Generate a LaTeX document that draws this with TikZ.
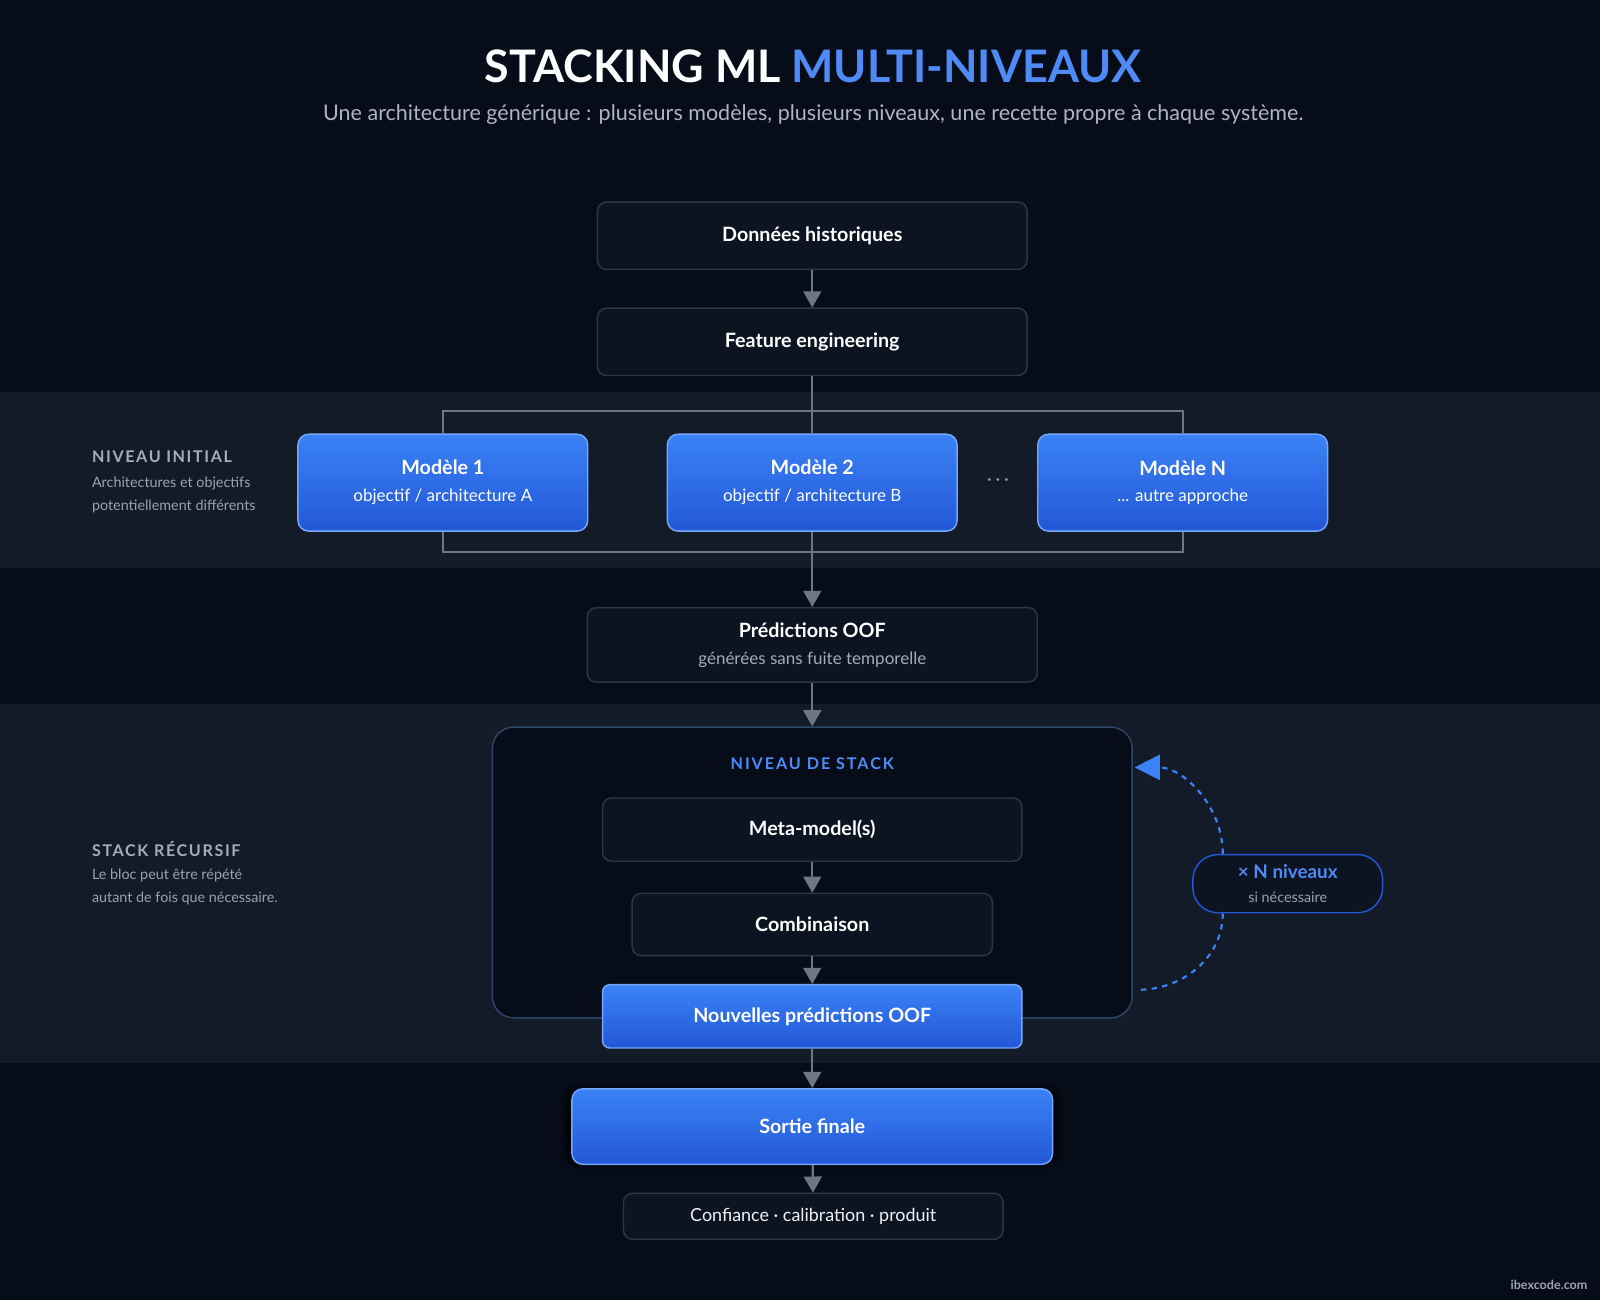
\documentclass[tikz,border=0pt]{standalone}
\usepackage{fontspec}
\setmainfont{Lato}
\usetikzlibrary{arrows.meta,positioning,calc,shadows.blur}
\definecolor{bgdark}{HTML}{060D19}
\definecolor{band}{HTML}{131B29}
\definecolor{boxfill}{HTML}{0C1421}
\definecolor{boxline}{HTML}{2C3646}
\definecolor{linegray}{HTML}{6B7686}
\definecolor{blueA}{HTML}{3B82F6}
\definecolor{blueB}{HTML}{2257D6}
\definecolor{blueT}{HTML}{4F8BF7}
\definecolor{subgray}{HTML}{9AA3B2}
\newcommand{\mdl}[2]{#1\\[2pt]{\mdseries\fontsize{9.5}{11}\selectfont #2}}
\begin{document}
\begin{tikzpicture}
[x=0.02cm,y=-0.02cm,
darkbox/.style={draw=boxline,fill=boxfill,rounded corners=5pt,line width=0.8pt,text=white,font=\bfseries\fontsize{11}{13}\selectfont,align=center},
bluebox/.style={draw=blueA!70!white,top color=blueA,bottom color=blueB,rounded corners=6pt,line width=0.8pt,text=white,font=\bfseries\fontsize{11}{13}\selectfont,align=center},
model/.style={bluebox,minimum width=284*0.02cm,minimum height=95*0.02cm},
lbl/.style={anchor=west,text=subgray!90!white,font=\bfseries\fontsize{9}{11}\selectfont},
sublbl/.style={anchor=west,text=subgray,font=\fontsize{8}{10}\selectfont},
conn/.style={linegray,line width=1.2pt},
arr/.style={conn,-{Triangle[length=9pt,width=10pt]}}]
%% background
\fill[bgdark] (0,0) rectangle (1568,1274);
\useasboundingbox (0,0) rectangle (1568,1274);
\fill[band] (0,384) rectangle (1568,557);
\fill[band] (0,690) rectangle (1568,1042);
%% title
\node (title) at (797,65) {\fontsize{25}{28}\selectfont\bfseries\color{white}STACKING ML \color{blueT}MULTI-NIVEAUX};
\node (sub) at (797,112) [text=subgray!80!white,font=\fontsize{12}{14}\selectfont] {Une architecture générique : plusieurs modèles, plusieurs niveaux, une recette propre à chaque système.};
%% top boxes
\node (data) [darkbox,minimum width=421*0.02cm,minimum height=66*0.02cm] at (796,231) {Données historiques};
\node (feat) [darkbox,minimum width=421*0.02cm,minimum height=66*0.02cm] at (796,335) {Feature engineering};
\draw[arr] (data) -- (feat);
%% models
\node (m1) [model] at (434,473) {\mdl{Modèle 1}{objectif / architecture A}};
\node (m2) [model] at (796,473) {\mdl{Modèle 2}{objectif / architecture B}};
\node (mN) [model] at (1159,473) {\mdl{Modèle N}{... autre approche}};
\node (dots) at (978,471) [text=subgray,font=\bfseries\fontsize{14}{14}\selectfont] {$\cdot\!\cdot\!\cdot$};
\coordinate (tl) at (434,403);
\coordinate (tr) at (1159,403);
\coordinate (bl) at (434,541);
\coordinate (br) at (1159,541);
\coordinate (tc) at (796,403);
\coordinate (bc) at (796,541);
\draw[conn] (feat) -- (tc);
\draw[conn] (m1.north) -- (tl) -- (tr) -- (mN.north);
\draw[conn] (tc) -- (m2.north);
\draw[conn] (m1.south) -- (bl) -- (br) -- (mN.south);
\draw[conn] (m2.south) -- (bc);
\node (l1) [lbl] at (84,448) {\addfontfeature{LetterSpace=10}NIVEAU INITIAL};
\node (l1a) [sublbl] at (84,474) {Architectures et objectifs};
\node (l1b) [sublbl] at (84,496) {potentiellement différents};
%% OOF
\node (oof) [darkbox,minimum width=441*0.02cm,minimum height=73*0.02cm] at (796,632)
  {Prédictions OOF\\[2pt]{\mdseries\color{subgray!90!white}\fontsize{9.5}{11}\selectfont générées sans fuite temporelle}};
\draw[arr] (bc) -- (oof);
%% stack block
\node (stack) [draw=boxline!80!blueA,fill=bgdark,rounded corners=12pt,line width=0.8pt,minimum width=627*0.02cm,minimum height=285*0.02cm] at (796,855) {};
\draw[arr] (oof) -- (stack);
\node (stl) at (796,748) [text=blueT,font=\bfseries\fontsize{9}{11}\selectfont] {\addfontfeature{LetterSpace=12}NIVEAU DE STACK};
\node (meta) [darkbox,minimum width=411*0.02cm,minimum height=62*0.02cm] at (796,813) {Meta-model(s)};
\node (comb) [darkbox,minimum width=353*0.02cm,minimum height=61*0.02cm] at (796,906) {Combinaison};
\node (newo) [bluebox,rounded corners=4pt,minimum width=411*0.02cm,minimum height=62*0.02cm] at (796,996) {Nouvelles prédictions OOF};
\draw[arr] (meta) -- (comb);
\draw[arr] (comb) -- (newo);
\node (l2) [lbl] at (84,832) {\addfontfeature{LetterSpace=10}STACK RÉCURSIF};
\node (l2a) [sublbl] at (84,858) {Le bloc peut être répété};
\node (l2b) [sublbl] at (84,880) {autant de fois que nécessaire.};
%% loop
\node (nlev) [draw=blueB,fill=boxfill,rounded corners=14pt,line width=0.8pt,minimum width=186*0.02cm,minimum height=57*0.02cm,align=center,text=blueT,font=\bfseries\fontsize{10.5}{12}\selectfont] at (1262,866)
  {× N niveaux\\[1pt]{\mdseries\color{subgray}\fontsize{8}{9}\selectfont si nécessaire}};
\coordinate (lin) at (1112,752);
\coordinate (lout) at (1115,970);
\draw[blueA,line width=1.2pt,dashed,-{Triangle[length=14pt,width=14pt]}] ($(nlev.north west)+(30,0)$) to[out=90,in=0] (lin);
\draw[blueA,line width=1.2pt,dashed] ($(nlev.south west)+(30,0)$) to[out=-90,in=0] (lout);
%% output
\node (out) [bluebox,blur shadow={shadow blur steps=8,shadow xshift=0pt,shadow yshift=0pt,shadow scale=1.03,shadow opacity=60,shadow blur extra rounding=4pt},minimum width=471*0.02cm,minimum height=74*0.02cm] at (796,1104) {Sortie finale};
\draw[arr] (newo) -- (out);
\node (conf) [darkbox,minimum width=372*0.02cm,minimum height=45*0.02cm,font=\fontsize{10}{12}\selectfont,text=white!85!subgray] at (797,1192) {Confiance · calibration · produit};
\draw[arr] (out) -- (conf);
\node (ibx) at (1518,1259) [text=subgray,font=\bfseries\fontsize{7}{8}\selectfont] {ibexcode.com};
\end{tikzpicture}
\end{document}
